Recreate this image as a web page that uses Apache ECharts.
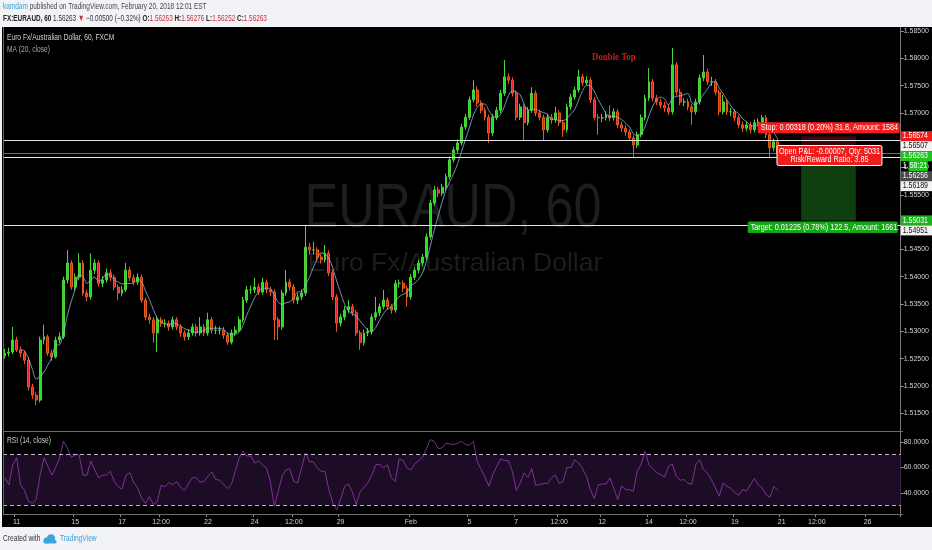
<!DOCTYPE html>
<html>
<head>
<meta charset="utf-8">
<script src="https://cdn.jsdelivr.net/npm/echarts@6/dist/echarts.min.js"></script>
<style>
  html, body { margin: 0; padding: 0; background: #f1f3f6; }
  #chart { width: 932px; height: 550px; }
</style>
</head>
<body>
<div id="chart"></div>
<script>
var candles = [
  [1.5255,1.5260,1.5250,1.5268],[1.5260,1.5262,1.5254,1.5270],[1.5262,1.5284,1.5258,1.5308],[1.5284,1.5266,1.5262,1.5290],
  [1.5266,1.5260,1.5252,1.5272],[1.5260,1.5247,1.5240,1.5265],[1.5247,1.5198,1.5192,1.5252],[1.5198,1.5183,1.5176,1.5204],
  [1.5183,1.5174,1.5165,1.5188],[1.5174,1.5284,1.5170,1.5290],[1.5284,1.5290,1.5276,1.5312],[1.5290,1.5260,1.5255,1.5294],
  [1.5260,1.5253,1.5246,1.5266],[1.5253,1.5284,1.5250,1.5290],[1.5284,1.5290,1.5278,1.5298],[1.5290,1.5394,1.5286,1.5400],
  [1.5394,1.5425,1.5388,1.5449],[1.5425,1.5381,1.5376,1.5430],[1.5381,1.5399,1.5375,1.5406],[1.5399,1.5425,1.5394,1.5443],
  [1.5425,1.5370,1.5365,1.5430],[1.5370,1.5363,1.5355,1.5376],[1.5363,1.5412,1.5358,1.5443],[1.5412,1.5425,1.5405,1.5432],
  [1.5425,1.5388,1.5382,1.5430],[1.5388,1.5394,1.5381,1.5401],[1.5394,1.5407,1.5389,1.5415],[1.5407,1.5399,1.5392,1.5414],
  [1.5399,1.5381,1.5375,1.5404],[1.5381,1.5370,1.5357,1.5386],[1.5370,1.5376,1.5364,1.5383],[1.5376,1.5412,1.5372,1.5425],
  [1.5412,1.5398,1.5392,1.5418],[1.5398,1.5390,1.5384,1.5404],[1.5390,1.5399,1.5385,1.5406],[1.5399,1.5357,1.5352,1.5404],
  [1.5357,1.5326,1.5320,1.5362],[1.5326,1.5321,1.5314,1.5332],[1.5321,1.5297,1.5279,1.5326],[1.5297,1.5321,1.5262,1.5327],
  [1.5321,1.5315,1.5308,1.5326],[1.5315,1.5315,1.5307,1.5322],[1.5315,1.5308,1.5301,1.5320],[1.5308,1.5321,1.5303,1.5327],
  [1.5321,1.5308,1.5302,1.5326],[1.5308,1.5297,1.5290,1.5313],[1.5297,1.5290,1.5283,1.5302],[1.5290,1.5297,1.5284,1.5304],
  [1.5297,1.5308,1.5292,1.5314],[1.5308,1.5297,1.5290,1.5313],[1.5297,1.5308,1.5292,1.5326],[1.5308,1.5297,1.5291,1.5313],
  [1.5297,1.5321,1.5292,1.5334],[1.5321,1.5302,1.5296,1.5326],[1.5302,1.5302,1.5295,1.5310],[1.5302,1.5302,1.5294,1.5309],
  [1.5302,1.5293,1.5286,1.5308],[1.5293,1.5280,1.5275,1.5298],[1.5280,1.5297,1.5276,1.5303],[1.5297,1.5302,1.5291,1.5309],
  [1.5302,1.5321,1.5298,1.5327],[1.5321,1.5357,1.5316,1.5363],[1.5357,1.5376,1.5352,1.5383],[1.5376,1.5376,1.5368,1.5384],
  [1.5376,1.5381,1.5370,1.5398],[1.5381,1.5372,1.5366,1.5387],[1.5372,1.5390,1.5367,1.5398],[1.5390,1.5376,1.5370,1.5395],
  [1.5376,1.5372,1.5365,1.5382],[1.5372,1.5321,1.5284,1.5377],[1.5321,1.5308,1.5284,1.5326],[1.5308,1.5370,1.5303,1.5376],
  [1.5370,1.5390,1.5365,1.5412],[1.5390,1.5381,1.5375,1.5396],[1.5381,1.5357,1.5351,1.5386],[1.5357,1.5363,1.5350,1.5370],
  [1.5363,1.5370,1.5357,1.5377],[1.5370,1.5454,1.5365,1.5495],[1.5454,1.5449,1.5440,1.5462],[1.5449,1.5449,1.5441,1.5464],
  [1.5449,1.5436,1.5430,1.5454],[1.5436,1.5431,1.5424,1.5441],[1.5431,1.5443,1.5426,1.5458],[1.5443,1.5407,1.5401,1.5448],
  [1.5407,1.5363,1.5357,1.5412],[1.5363,1.5315,1.5299,1.5368],[1.5315,1.5326,1.5309,1.5332],[1.5326,1.5339,1.5320,1.5346],
  [1.5339,1.5345,1.5333,1.5357],[1.5345,1.5334,1.5328,1.5350],[1.5334,1.5297,1.5291,1.5339],[1.5297,1.5279,1.5266,1.5302],
  [1.5279,1.5297,1.5274,1.5303],[1.5297,1.5299,1.5291,1.5306],[1.5299,1.5326,1.5294,1.5332],[1.5326,1.5334,1.5320,1.5363],
  [1.5334,1.5345,1.5328,1.5351],[1.5345,1.5357,1.5340,1.5376],[1.5357,1.5345,1.5339,1.5362],[1.5345,1.5339,1.5332,1.5350],
  [1.5339,1.5388,1.5334,1.5394],[1.5388,1.5388,1.5380,1.5395],[1.5388,1.5379,1.5372,1.5393],[1.5379,1.5363,1.5345,1.5384],
  [1.5363,1.5399,1.5358,1.5405],[1.5399,1.5412,1.5394,1.5418],[1.5412,1.5425,1.5406,1.5431],[1.5425,1.5436,1.5419,1.5442],
  [1.5436,1.5473,1.5431,1.5479],[1.5473,1.5535,1.5468,1.5541],[1.5535,1.5559,1.5530,1.5566],[1.5559,1.5553,1.5546,1.5564],
  [1.5553,1.5564,1.5548,1.5570],[1.5564,1.5583,1.5559,1.5589],[1.5583,1.5614,1.5578,1.5620],[1.5614,1.5632,1.5609,1.5638],
  [1.5632,1.5645,1.5627,1.5651],[1.5645,1.5674,1.5640,1.5680],[1.5674,1.5692,1.5669,1.5698],[1.5692,1.5724,1.5687,1.5730],
  [1.5724,1.5742,1.5719,1.5760],[1.5742,1.5718,1.5712,1.5748],[1.5718,1.5705,1.5699,1.5723],[1.5705,1.5692,1.5686,1.5710],
  [1.5692,1.5663,1.5645,1.5697],[1.5663,1.5692,1.5658,1.5698],[1.5692,1.5705,1.5687,1.5711],[1.5705,1.5736,1.5700,1.5742],
  [1.5736,1.5766,1.5731,1.5797],[1.5766,1.5760,1.5753,1.5772],[1.5760,1.5736,1.5730,1.5765],[1.5736,1.5692,1.5686,1.5741],
  [1.5692,1.5711,1.5687,1.5717],[1.5711,1.5682,1.5650,1.5716],[1.5682,1.5705,1.5677,1.5711],[1.5705,1.5736,1.5700,1.5747],
  [1.5736,1.5700,1.5694,1.5741],[1.5700,1.5692,1.5686,1.5706],[1.5692,1.5669,1.5650,1.5697],[1.5669,1.5692,1.5664,1.5698],
  [1.5692,1.5687,1.5680,1.5698],[1.5687,1.5700,1.5682,1.5711],[1.5700,1.5682,1.5676,1.5705],[1.5682,1.5669,1.5656,1.5687],
  [1.5669,1.5711,1.5664,1.5717],[1.5711,1.5729,1.5706,1.5735],[1.5729,1.5742,1.5724,1.5748],[1.5742,1.5766,1.5737,1.5779],
  [1.5766,1.5755,1.5749,1.5771],[1.5755,1.5760,1.5750,1.5767],[1.5760,1.5724,1.5718,1.5765],[1.5724,1.5692,1.5686,1.5729],
  [1.5692,1.5691,1.5660,1.5698],[1.5691,1.5691,1.5683,1.5698],[1.5691,1.5696,1.5686,1.5703],[1.5696,1.5691,1.5685,1.5714],
  [1.5691,1.5702,1.5686,1.5708],[1.5702,1.5678,1.5672,1.5707],[1.5678,1.5672,1.5665,1.5684],[1.5672,1.5665,1.5658,1.5678],
  [1.5665,1.5654,1.5648,1.5670],[1.5654,1.5641,1.5617,1.5659],[1.5641,1.5660,1.5636,1.5666],[1.5660,1.5691,1.5655,1.5697],
  [1.5691,1.5727,1.5686,1.5733],[1.5727,1.5757,1.5722,1.5782],[1.5757,1.5727,1.5721,1.5762],[1.5727,1.5720,1.5714,1.5733],
  [1.5720,1.5714,1.5708,1.5726],[1.5714,1.5709,1.5702,1.5720],[1.5709,1.5702,1.5696,1.5715],[1.5702,1.5788,1.5697,1.5819],
  [1.5788,1.5738,1.5732,1.5793],[1.5738,1.5720,1.5714,1.5744],[1.5720,1.5720,1.5712,1.5727],[1.5720,1.5711,1.5705,1.5726],
  [1.5711,1.5702,1.5678,1.5716],[1.5702,1.5720,1.5697,1.5726],[1.5720,1.5764,1.5715,1.5770],[1.5764,1.5775,1.5758,1.5806],
  [1.5775,1.5757,1.5751,1.5781],[1.5757,1.5757,1.5749,1.5766],[1.5757,1.5738,1.5732,1.5762],[1.5738,1.5702,1.5696,1.5743],
  [1.5702,1.5720,1.5697,1.5733],[1.5720,1.5702,1.5696,1.5725],[1.5702,1.5702,1.5694,1.5709],[1.5702,1.5691,1.5685,1.5707],
  [1.5691,1.5678,1.5672,1.5696],[1.5678,1.5672,1.5665,1.5684],[1.5672,1.5678,1.5666,1.5684],[1.5678,1.5669,1.5662,1.5684],
  [1.5669,1.5682,1.5664,1.5688],[1.5682,1.5683,1.5676,1.5690],[1.5683,1.5691,1.5677,1.5696],[1.5691,1.5660,1.5654,1.5696],
  [1.5660,1.5636,1.5617,1.5665],[1.5636,1.5647,1.5630,1.5653],[1.5647,1.5626,1.5620,1.5652]
];

// RSI (14, close) read at the same candle slots
var rsiValues = [
  52,46.5,62,67.5,46.5,42,33.5,32,35,54,67.5,61,54,60,67.5,80.5,75,68,70,70,
  54,54,65,58,52,54,54,57,49,45,43,54,56,48,44,36,32,37,31,33,
  46,45,48,46.5,49,44.5,42,47,52,52,48.5,49,53,56.5,50.5,50,47,43.5,46.5,57,
  67.5,72.7,69,69,63.5,65,62,59.6,49,29.5,41,53,58,59,49,48,59.6,71.5,64.5,64.5,
  59.6,57,57,42.6,32,27,35,45,47,41,31,41,44.5,48,54,62,62.7,59.6,62,52,
  49,66.7,65.4,59.6,58,62.7,65.4,68,74.8,81.8,80.5,74.8,75.3,79,78.4,78,79,80.5,78,77.4,
  80.5,64.8,58.3,52.3,45.2,54.4,61,66.7,65.4,65.4,57,42,47.8,55.7,52.3,59,46,46.5,47.5,47.5,
  51.8,54,47.5,49,60,60,66,63.5,59,53,42.6,35.5,46.5,47,47,51.8,43.5,34.8,45.7,42.6,
  42.6,41.3,57,62.7,72.7,62.2,59,56,54.4,52.3,61,62.7,53,50,50.5,47.5,47,62.2,66.1,58.3,
  55.5,50.5,43.9,37.4,47.8,45.2,43.5,40.5,38.2,42.6,41.3,46.5,51.3,46.5,43.9,38.7,36.6,45.2,42
];

var slotCount = 230;
var maPeriod = 5;
var tickSlots = [3, 18, 30, 40, 52, 64, 74, 86, 104, 119, 131, 142, 153, 165, 175, 187, 199, 208, 221];
var tickTexts = ['11', '15', '17', '12:00', '22', '24', '12:00', '29', 'Feb', '5', '7', '12:00', '12', '14', '12:00', '19', '21', '12:00', '26'];
var priceTicks = [1.515, 1.52, 1.525, 1.53, 1.535, 1.54, 1.545, 1.55, 1.555, 1.56, 1.565, 1.57, 1.575, 1.58, 1.585];
var priceRange = [1.51174, 1.58573];
var rsiTicks = [40, 60, 80];
var rsiRange = [23.5, 88.6];
var rsiBands = [30, 70];

var lastPrice = 1.56263;
var refLines = [1.56507, 1.56189, 1.54951];
var trade = { stop: 1.56574, entry: 1.56256, target: 1.55031, from: '204', to: '218' };
var priceTags = [
  { v: 1.56574, text: '1.56574', bg: '#f01d1d', fg: '#ffffff' },
  { v: 1.56507, text: '1.56507', bg: '#f2f2f2', fg: '#111111' },
  { v: 1.56263, text: '1.56263', bg: '#22c422', fg: '#ffffff' },
  { v: 1.56263, text: '58:21', countdown: true },
  { v: 1.56256, text: '1.56256', bg: '#4a4a4a', fg: '#ffffff' },
  { v: 1.56189, text: '1.56189', bg: '#f2f2f2', fg: '#111111' },
  { v: 1.55031, text: '1.55031', bg: '#1fb01f', fg: '#ffffff' },
  { v: 1.54951, text: '1.54951', bg: '#f2f2f2', fg: '#111111' }
];

var FONT = 'Liberation Sans';
var chart = echarts.init(document.getElementById('chart'));

var cats = [];
for (var i = 0; i < slotCount; i++) cats.push(String(i));

// MA (20, close) on hourly bars ~ 5 four-hour bars
var ma = candles.map(function (c, i) {
  if (i < maPeriod - 1) return null;
  var s = 0;
  for (var k = i - maPeriod + 1; k <= i; k++) s += candles[k][1];
  return +(s / maPeriod).toFixed(5);
});

function isTick(idx) { return tickSlots.indexOf(idx) >= 0; }

var option = {
  backgroundColor: '#000',
  animation: false,
  textStyle: { fontFamily: FONT },
  grid: [
    { left: 3, right: 29, top: 27, height: 404 },
    { left: 3, right: 29, top: 431, height: 83 }
  ],
  xAxis: [
    { type: 'category', gridIndex: 0, data: cats, boundaryGap: true, show: false },
    {
      type: 'category', gridIndex: 1, data: cats, boundaryGap: true,
      axisLine: { show: false },
      axisTick: { show: true, interval: isTick, length: 3, lineStyle: { color: '#8a8a8a' } },
      axisLabel: {
        interval: isTick, color: '#d2d2d2', fontSize: 7, margin: 5,
        formatter: function (v) { return tickTexts[tickSlots.indexOf(Number(v))]; }
      },
      splitLine: { show: false }
    }
  ],
  yAxis: [
    {
      type: 'value', gridIndex: 0, position: 'right', min: priceRange[0], max: priceRange[1],
      axisLine: { show: true, lineStyle: { color: '#777' } },
      axisTick: { show: true, length: 3, customValues: priceTicks, lineStyle: { color: '#999' } },
      axisLabel: {
        customValues: priceTicks, color: '#d2d2d2', fontSize: 7, margin: 3,
        formatter: function (v) { return v.toFixed(5); }
      },
      splitLine: { show: false }
    },
    {
      type: 'value', gridIndex: 1, position: 'right', min: rsiRange[0], max: rsiRange[1],
      axisLine: { show: true, lineStyle: { color: '#777' } },
      axisTick: { show: true, length: 3, customValues: rsiTicks, lineStyle: { color: '#999' } },
      axisLabel: {
        customValues: rsiTicks, color: '#d2d2d2', fontSize: 7, margin: 3,
        formatter: function (v) { return v.toFixed(4); }
      },
      splitLine: { show: false }
    }
  ],
  series: [
    {
      type: 'candlestick', xAxisIndex: 0, yAxisIndex: 0, data: candles, barWidth: 2.4,
      itemStyle: {
        color: '#1fe01f', color0: '#f01c1c',
        borderColor: '#4cd43a', borderColor0: '#e85a1e', borderWidth: 1
      },
      markLine: {
        silent: true, precision: 5, symbol: ['none', 'none'], label: { show: false },
        data: refLines.map(function (v) {
          return { yAxis: v, lineStyle: { color: '#e6e6e6', width: 1, type: 'solid' } };
        }).concat([{ yAxis: lastPrice, lineStyle: { color: '#1f9e1f', width: 1, type: 'solid' } }])
      }
    },
    {
      type: 'line', xAxisIndex: 0, yAxisIndex: 0, data: ma, showSymbol: false, smooth: 0.3,
      lineStyle: { color: '#8db6dc', width: 0.8 }, z: 3
    },
    {
      type: 'line', xAxisIndex: 1, yAxisIndex: 1, data: rsiValues, showSymbol: false,
      lineStyle: { color: '#9b38b6', width: 0.8 },
      markArea: { silent: true, itemStyle: { color: '#1c0c25' }, data: [[{ yAxis: rsiBands[0] }, { yAxis: rsiBands[1] }]] },
      markLine: {
        silent: true, symbol: ['none', 'none'], label: { show: false },
        lineStyle: { color: '#c5b3d3', type: [4, 3], width: 1 },
        data: rsiBands.map(function (v) { return { yAxis: v }; })
      }
    }
  ]
};
chart.setOption(option);

// ---- overlays: header, footer, watermark, labels, price tags ----
function yOf(v) { return chart.convertToPixel({ yAxisIndex: 0 }, v); }
function xOf(c) { return chart.convertToPixel({ xAxisIndex: 0 }, c); }

function txt(x, y, text, style, extra) {
  var el = {
    type: 'text', x: x, y: y, scaleX: 0.74, silent: true, z: 20,
    style: Object.assign({ text: text, x: 0, y: 0, fill: '#ccc', fontFamily: FONT, fontSize: 9, verticalAlign: 'middle' }, style)
  };
  return Object.assign(el, extra || {});
}

var g = [];
g.push({ type: 'rect', silent: true, z: 1, shape: { x: 0, y: 0, width: 932, height: 27 }, style: { fill: '#f1f3f6' } });
g.push({ type: 'rect', silent: true, z: 1, shape: { x: 0, y: 527, width: 932, height: 23 }, style: { fill: '#f1f3f6' } });
g.push({ type: 'rect', silent: true, z: 1, shape: { x: 0, y: 27, width: 2, height: 500 }, style: { fill: '#f1f3f6' } });

// frame lines
g.push({ type: 'line', silent: true, z: 5, shape: { x1: 3.5, y1: 27, x2: 3.5, y2: 514 }, style: { stroke: '#666', lineWidth: 1 } });
g.push({ type: 'line', silent: true, z: 5, shape: { x1: 3, y1: 431.5, x2: 903, y2: 431.5 }, style: { stroke: '#6d6d6d', lineWidth: 1 } });
g.push({ type: 'line', silent: true, z: 5, shape: { x1: 3, y1: 514.5, x2: 903, y2: 514.5 }, style: { stroke: '#6d6d6d', lineWidth: 1 } });

// header
g.push(txt(3, 7, '{a|kamdam} {b|published on TradingView.com, February 20, 2018 12:01 EST}', {
  fontSize: 9, rich: { a: { fill: '#3d9fd8', fontSize: 9 }, b: { fill: '#474747', fontSize: 9 } }
}, { scaleX: 0.72 }));
g.push(txt(3, 19,
  '{k|FX:EURAUD, 60} {n|1.56263} {r|\u25BC} {n|\u22120.00500 (\u22120.32%)} {k|O:}{r|1.56263} {k|H:}{r|1.56276} {k|L:}{r|1.56252} {k|C:}{r|1.56263}', {
  fontSize: 9, rich: {
    k: { fill: '#222', fontWeight: 'bold', fontSize: 9 },
    n: { fill: '#333', fontSize: 9 },
    r: { fill: '#cc2f3a', fontSize: 9 }
  }
}, { scaleX: 0.71 }));

// footer
g.push(txt(3, 539, 'Created with', { fill: '#333', fontSize: 9 }));
g.push({ type: 'circle', silent: true, z: 20, shape: { cx: 46.5, cy: 540.5, r: 3 }, style: { fill: '#3da3dd' } });
g.push({ type: 'circle', silent: true, z: 20, shape: { cx: 51, cy: 538.5, r: 4.2 }, style: { fill: '#3da3dd' } });
g.push({ type: 'rect', silent: true, z: 20, shape: { x: 43.5, y: 540, width: 13, height: 3.5, r: 1.5 }, style: { fill: '#3da3dd' } });
g.push(txt(60, 539, 'TradingView', { fill: '#3d9fd8', fontSize: 9 }));

// watermark
g.push({
  type: 'text', silent: true, z: 0, x: 453, y: 209.5, scaleX: 0.8,
  style: { text: 'EURAUD, 60', x: 0, y: 0, align: 'center', verticalAlign: 'middle', fill: '#1d1d1d', fontFamily: FONT, fontSize: 63 }
});
g.push({
  type: 'text', silent: true, z: 0, x: 455, y: 264, scaleX: 1.06,
  style: { text: 'Euro Fx/Australian Dollar', x: 0, y: 0, align: 'center', verticalAlign: 'middle', fill: '#1d1d1d', fontFamily: FONT, fontSize: 25 }
});

// panel titles
g.push(txt(7, 38, 'Euro Fx/Australian Dollar, 60, FXCM', { fill: '#d0d0d0', fontSize: 9 }));
g.push(txt(7, 50, 'MA (20, close)', { fill: '#a8a8a8', fontSize: 9 }));
g.push(txt(7, 441, 'RSI (14, close)', { fill: '#c8c8c8', fontSize: 9 }));

// Double Top note
g.push(txt(xOf('156'), yOf(1.5801), 'Double Top', {
  align: 'center', fill: '#d31818', fontFamily: 'Liberation Serif', fontWeight: 'bold', fontSize: 10
}, { scaleX: 0.88 }));

// position tool: risk and reward zones, then labels
var axisX = xOf(String(slotCount - 1)) + 2;
var zoneL = xOf(trade.from), zoneR = xOf(trade.to);
var yStop = yOf(trade.stop), yEntry = yOf(trade.entry), yTarget = yOf(trade.target);

g.push({ type: 'rect', silent: true, z: 2, shape: { x: zoneL, y: yStop, width: zoneR - zoneL, height: yEntry - yStop }, style: { fill: '#3a0909' } });
g.push({ type: 'rect', silent: true, z: 2, shape: { x: zoneL, y: yEntry, width: zoneR - zoneL, height: yTarget - yEntry }, style: { fill: '#0f3f0f' } });

g.push({ type: 'rect', silent: true, z: 30, shape: { x: axisX - 143, y: yStop - 14, width: 142, height: 11, r: 1.5 }, style: { fill: '#f51c1c' } });
g.push(txt(axisX - 140, yStop - 8.5, 'Stop: 0.00318 (0.20%) 31.8, Amount: 1584', { fill: '#fff', fontSize: 9.5 }, { z: 31, scaleX: 0.76 }));

var pnlW = 105, pnlC = (zoneL + zoneR) / 2 + 1;
g.push({ type: 'rect', silent: true, z: 30, shape: { x: pnlC - pnlW / 2, y: yEntry - 8, width: pnlW, height: 20, r: 1.5 }, style: { fill: '#f01d1d', stroke: '#ffffff', lineWidth: 1 } });
g.push(txt(pnlC, yEntry - 2.5, 'Open P&L: -0.00007, Qty: 5031', { fill: '#fff', fontSize: 9.5, align: 'center' }, { z: 31, scaleX: 0.76 }));
g.push(txt(pnlC, yEntry + 6, 'Risk/Reward Ratio: 3.85', { fill: '#fff', fontSize: 9.5, align: 'center' }, { z: 31, scaleX: 0.76 }));

g.push({ type: 'rect', silent: true, z: 30, shape: { x: axisX - 153, y: yTarget + 1, width: 150, height: 11.5, r: 1.5 }, style: { fill: '#17a617' } });
g.push(txt(axisX - 150, yTarget + 7, 'Target: 0.01225 (0.78%) 122.5, Amount: 1661.', { fill: '#fff', fontSize: 9.5 }, { z: 31, scaleX: 0.76 }));

// right axis price tags, stacked so they don't overlap
var prevY = -1e9;
priceTags.forEach(function (t) {
  var y = Math.max(yOf(t.v), prevY + 10);
  prevY = y;
  if (t.countdown) {
    g.push(txt(axisX + 2, y, '1.', { fill: '#fff', fontSize: 8.5 }, { z: 40, scaleX: 0.82 }));
    g.push({ type: 'rect', silent: true, z: 40, shape: { x: axisX + 8, y: y - 5, width: 19, height: 10 }, style: { fill: '#22c422' } });
    g.push(txt(axisX + 9, y, t.text, { fill: '#fff', fontSize: 8.5 }, { z: 41, scaleX: 0.82 }));
    return;
  }
  g.push({ type: 'rect', silent: true, z: 40, shape: { x: axisX, y: y - 5, width: 932 - axisX, height: 10 }, style: { fill: t.bg } });
  g.push(txt(axisX + 2, y, t.text, { fill: t.fg, fontSize: 8.5 }, { z: 41, scaleX: 0.82 }));
});

chart.setOption({ graphic: g });
</script>
</body>
</html>
